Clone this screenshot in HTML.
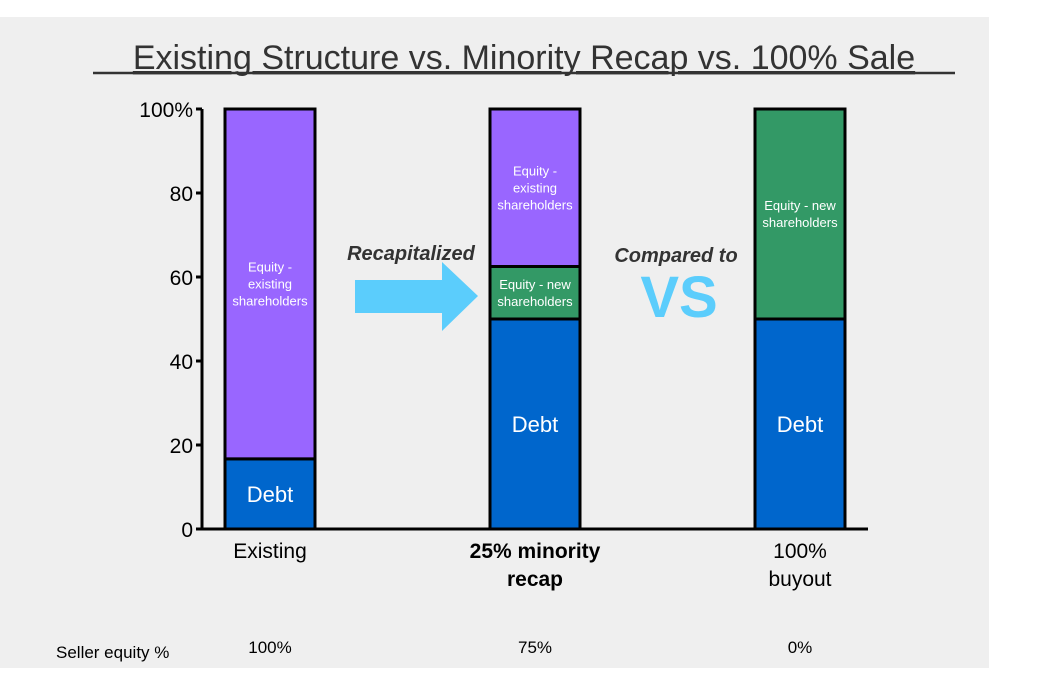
<!DOCTYPE html>
<html><head><meta charset="utf-8"><style>
body{margin:0;background:#fff;}
svg{display:block;font-family:"Liberation Sans",Arial,sans-serif;}
</style></head><body>
<svg width="1063" height="682" id="chart">
<rect x="0" y="17" width="989" height="651" fill="#efefef"/>
<text x="524" y="69" font-size="34" fill="#333" text-anchor="middle" text-decoration="underline">Existing Structure vs. Minority Recap vs. 100% Sale</text>
<line x1="93" y1="73" x2="955" y2="73" stroke="#333" stroke-width="2.5"/>
<g id="bars"></g>
<g id="axis"></g>
<polygon points="355,280 442,280 442,262 478,296 442,331 442,313 355,313" fill="#5bcdfc"/>
<text x="411" y="260" font-size="20" font-weight="bold" font-style="italic" fill="#333" text-anchor="middle">Recapitalized</text>
<text x="676" y="262" font-size="20" font-weight="bold" font-style="italic" fill="#333" text-anchor="middle">Compared to</text>
<text x="679" y="317" font-size="58" font-weight="bold" fill="#5bcdfc" text-anchor="middle">VS</text>
<text x="56" y="658" font-size="17" fill="#000">Seller equity %</text>
</svg>
<script>
const categories=["Existing","25% minority recap","100% buyout"];
const catLines=[["Existing"],["25% minority","recap"],["100%","buyout"]];
const debt=[16.7,50,50];
const newEquity=[0,12.5,50];
const existingEquity=[83.3,37.5,0];
const sellerEquity=["100%","75%","0%"];
const yTicks=[0,20,40,60,80,100];
const yTickLabels=["0","20","40","60","80","100%"];

const NS="http://www.w3.org/2000/svg";
const y0=529,y1=109,xc0=270,step=265,bw=90;
const y=v=>y0-(v/100)*(y0-y1);
const xc=i=>xc0+i*step;
function mk(tag,attrs,parent,text){const e=document.createElementNS(NS,tag);for(const k in attrs)e.setAttribute(k,attrs[k]);if(text!==undefined)e.textContent=text;parent.appendChild(e);return e;}
const bars=document.getElementById('bars'),axis=document.getElementById('axis');
const segs=[{vals:debt,color:"#0066cc",name:"debt"},{vals:newEquity,color:"#339966",name:"equity-new"},{vals:existingEquity,color:"#9966ff",name:"equity-existing"}];
categories.forEach((c,i)=>{
  let base=0;
  segs.forEach(s=>{
    const v=s.vals[i];
    if(v>0){
      const r=mk('rect',{x:xc(i)-bw/2,y:y(base+v),width:bw,height:y(base)-y(base+v),fill:s.color,stroke:"#000","stroke-width":3},bars);
      
      
      const mid=(y(base)+y(base+v))/2;
      let lines;
      if(s.name==="debt") lines=[["Debt",22]];
      else if(s.name==="equity-new") lines=[["Equity - new",13],["shareholders",13]];
      else lines=[["Equity -",13],["existing",13],["shareholders",13]];
      const lh=lines[0][1]===22?0:17;
      lines.forEach((l,j)=>{
        const t=mk('text',{x:xc(i),y:mid+(j-(lines.length-1)/2)*lh+l[1]*0.36,"font-size":l[1],fill:"#fff","text-anchor":"middle"},bars,l[0]);
        
        
      });
    }
    base+=v;
  });
  catLines[i].forEach((l,j)=>{
    const t=mk('text',{x:xc(i),y:558+j*28,"font-size":21,fill:"#000","text-anchor":"middle","font-weight":i===1?"bold":"normal"},axis,l);
    
    
  });
  const s=mk('text',{x:xc(i),y:653,"font-size":17,fill:"#000","text-anchor":"middle"},axis,sellerEquity[i]);
  
  
});
const ya=mk('line',{x1:202,y1:y1,x2:202,y2:y0+1.5,stroke:"#000","stroke-width":3},axis);


const xa=mk('line',{x1:196,y1:y0,x2:868,y2:y0,stroke:"#000","stroke-width":3},axis);


yTicks.forEach((v,i)=>{
  const tk=mk('line',{x1:196,y1:y(v),x2:202,y2:y(v),stroke:"#000","stroke-width":3},axis);
  
  
  const t=mk('text',{x:193,y:y(v)+8,"font-size":21,fill:"#000","text-anchor":"end"},axis,yTickLabels[i]);
  
  
});
</script>
</body></html>
